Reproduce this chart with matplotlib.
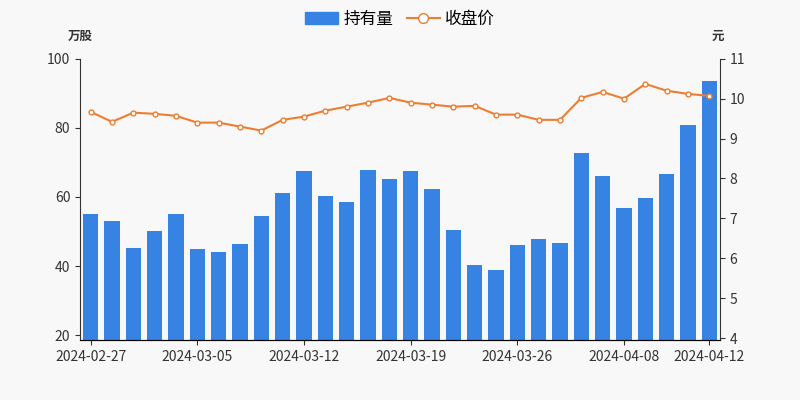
import matplotlib
matplotlib.use("Agg")
import matplotlib.pyplot as plt
from matplotlib.lines import Line2D
from matplotlib.patches import Patch

plt.rcParams['font.family'] = ['Noto Sans CJK SC', 'DejaVu Sans']

dates = ["2024-02-27","2024-02-28","2024-02-29","2024-03-01","2024-03-04","2024-03-05","2024-03-06","2024-03-07","2024-03-08","2024-03-11",
         "2024-03-12","2024-03-13","2024-03-14","2024-03-15","2024-03-18","2024-03-19","2024-03-20","2024-03-21","2024-03-22","2024-03-25",
         "2024-03-26","2024-03-27","2024-03-28","2024-03-29","2024-04-01","2024-04-08","2024-04-09","2024-04-10","2024-04-11","2024-04-12"]
holdings = [55.1,53.0,45.2,50.1,55.1,44.9,44.0,46.4,54.5,61.2,67.5,60.3,58.6,67.8,65.2,67.5,62.3,50.4,40.3,38.8,
            46.1,47.8,46.7,72.8,66.1,56.8,59.7,66.7,80.9,93.6]
close = [9.67,9.42,9.65,9.62,9.57,9.40,9.40,9.30,9.20,9.47,9.55,9.70,9.80,9.90,10.02,9.90,9.85,9.80,9.82,9.60,
         9.60,9.47,9.47,10.02,10.17,10.0,10.37,10.2,10.12,10.07]

fig = plt.figure(figsize=(8,4), dpi=100, facecolor='#f8f8f8')
ax = fig.add_axes([0.1, 0.15, 0.8, 0.703])
ax.set_facecolor('#f8f8f8')
x = list(range(len(dates)))
ax.bar(x, holdings, width=0.72, color='#3783e3', zorder=2)
ax.set_xlim(-0.5, len(dates)-0.5)
ax.set_ylim(18.6, 100)
ax.set_yticks([20,40,60,80,100])
ax.set_xticks([0,5,10,15,20,25,29])
ax.set_xticklabels([dates[i] for i in [0,5,10,15,20,25,29]])
for s in ['top','right']:
    ax.spines[s].set_visible(False)
ax.spines['left'].set_color('#333333'); ax.spines['bottom'].set_color('#333333')
ax.tick_params(colors='#333333', labelsize=10)

ax2 = ax.twinx()
ax2.plot(x, close, color='#ee7d31', lw=1.5, marker='o', ms=3.5, mfc='white', mec='#ee7d31', zorder=3)
ax2.set_ylim(3.95, 11)
ax2.set_yticks(range(4,12))
for s in ['top','left']:
    ax2.spines[s].set_visible(False)
ax2.spines['right'].set_color('#333333')
ax2.tick_params(colors='#333333', labelsize=10)

fig.text(0.085, 0.9, '万股', fontsize=9, fontweight='bold', color='#333333')
fig.text(0.89, 0.9, '元', fontsize=9, fontweight='bold', color='#333333')

handles = [Patch(color='#3783e3', label='持有量'),
           Line2D([0],[0], color='#ee7d31', marker='o', mfc='white', ms=7, label='收盘价')]
fig.legend(handles=handles, loc='upper center', bbox_to_anchor=(0.5, 1.01), ncol=2, frameon=False,
           fontsize=12, handlelength=2, handletextpad=0.3, columnspacing=0.8)
fig.savefig('out.png', facecolor=fig.get_facecolor())
